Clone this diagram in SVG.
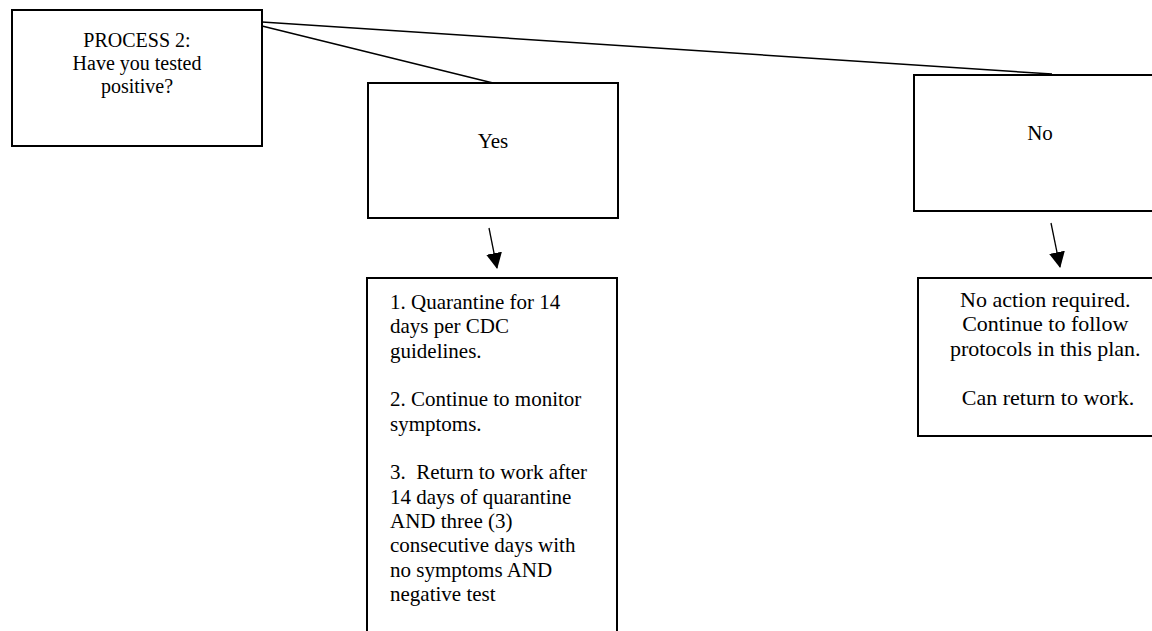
<svg xmlns="http://www.w3.org/2000/svg" width="1152" height="631" viewBox="0 0 1152 631">
<style>
.box{fill:#fff;stroke:#000;stroke-width:2}
.t{font-family:"Liberation Serif","Times New Roman",serif;fill:#000;text-anchor:middle}
.tl{font-family:"Liberation Serif","Times New Roman",serif;fill:#000}
.ln{stroke:#000;stroke-width:1.5;fill:none}
</style>
<defs>
<marker id="ah" markerWidth="16" markerHeight="16" refX="15" refY="8" orient="auto" markerUnits="userSpaceOnUse" viewBox="0 0 16 16">
<path d="M0,0 L16,8 L0,16 z" fill="#000"/>
</marker>
</defs>
<rect width="1152" height="631" fill="#fff"/>
<g id="connectors">
<line class="ln" x1="262" y1="22" x2="1052" y2="74"/>
<line class="ln" x1="262" y1="26" x2="493" y2="83"/>
<line class="ln" x1="489" y1="228" x2="497" y2="268" marker-end="url(#ah)" style="stroke-width:1.3"/>
<line class="ln" x1="1051" y1="223" x2="1060" y2="267" marker-end="url(#ah)" style="stroke-width:1.3"/>
</g>
<g id="process">
<rect class="box" x="12" y="10" width="250" height="136"/>
<text class="t" font-size="20"><tspan x="137" y="47">PROCESS 2:</tspan><tspan x="137" y="70">Have you tested</tspan><tspan x="137" y="93">positive?</tspan></text>
</g>
<g id="yes">
<rect class="box" x="368" y="83" width="250" height="135"/>
<text class="t" font-size="21" x="493" y="148">Yes</text>
</g>
<g id="no">
<rect class="box" x="914" y="75" width="250" height="136"/>
<text class="t" font-size="21" x="1040" y="140">No</text>
</g>
<g id="yes-actions">
<rect class="box" x="367" y="278" width="250" height="360"/>
<text class="tl" font-size="21">
<tspan x="390" y="309">1. Quarantine for 14</tspan>
<tspan x="390" y="333.3">days per CDC</tspan>
<tspan x="390" y="357.6">guidelines.</tspan>
<tspan x="390" y="406.3">2. Continue to monitor</tspan>
<tspan x="390" y="430.6">symptoms.</tspan>
<tspan x="390" y="479.3">3.&#160; Return to work after</tspan>
<tspan x="390" y="503.6">14 days of quarantine</tspan>
<tspan x="390" y="528">AND three (3)</tspan>
<tspan x="390" y="552.3">consecutive days with</tspan>
<tspan x="390" y="576.6">no symptoms AND</tspan>
<tspan x="390" y="601">negative test</tspan>
</text>
</g>
<g id="no-actions">
<rect class="box" x="918" y="278" width="250" height="158"/>
<text class="t" font-size="22">
<tspan x="1048" y="307">No action required.</tspan>
<tspan x="1048" y="331">Continue to follow</tspan>
<tspan x="1048" y="356">protocols in this plan.</tspan>
<tspan x="1048" y="405">Can return to work.</tspan>
</text>
</g>
</svg>
